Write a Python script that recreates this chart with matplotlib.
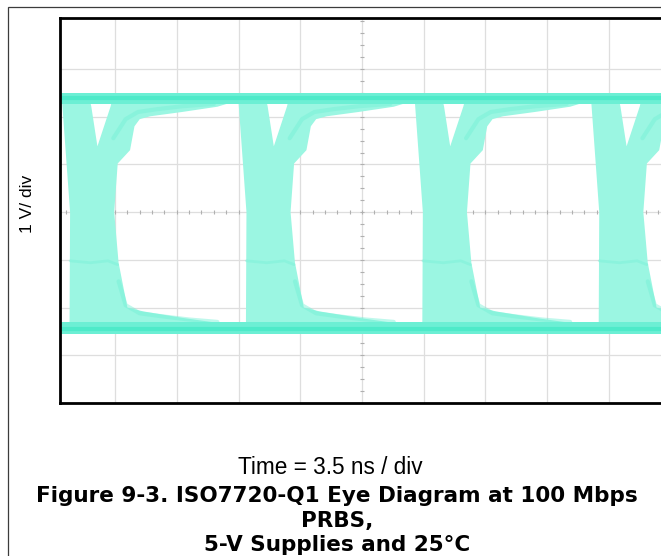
from __future__ import annotations

import matplotlib

matplotlib.use("Agg")
import matplotlib.pyplot as plt
import numpy as np
from matplotlib.patches import Polygon, Rectangle

# scope settings
NS_PER_DIV = 3.5
V_PER_DIV = 1.0
X_LIMITS = (-17.15, 17.15)
Y_LIMITS = (-4.0, 4.07)

# start of each transition bundle (ns), 10 ns bit period at 100 Mbps
TRANSITION_NS = [-17.0, -7.0, 3.0, 13.0]

# steady levels (V)
HIGH_BAND_V = (2.26, 2.50)
LOW_BAND_V = (-2.55, -2.31)
HIGH_CORE_V = 2.40
LOW_CORE_V = -2.44

# outline of one transition bundle, relative to its start (ns, V)
BUNDLE_NS = [0.0, 1.6, 1.65, 2.0, 2.75, 2.8, 9.6,
             8.8, 6.8, 5.0, 4.4, 4.1, 3.85, 3.15,
             2.95, 3.2, 3.7, 4.6, 6.9, 9.0,
             0.42, 0.45]
BUNDLE_V = [2.30, 2.30, 2.22, 1.38, 2.22, 2.30, 2.30,
            2.21, 2.10, 2.01, 1.95, 1.80, 1.30, 1.02,
            0.00, -1.06, -2.00, -2.08, -2.22, -2.33,
            -2.33, 0.00]

# settling ripples drawn slightly darker
TOP_RIPPLE_NS = [2.9, 3.6, 4.3, 5.4, 6.8, 8.6]
TOP_RIPPLE_V = [1.55, 1.95, 2.10, 2.16, 2.22, 2.27]
BOTTOM_RIPPLE_NS = [3.2, 3.6, 4.4, 5.6, 7.2, 8.8]
BOTTOM_RIPPLE_V = [-1.45, -1.95, -2.12, -2.18, -2.25, -2.30]
KNEE_NS = [0.45, 1.6, 2.6, 3.15]
KNEE_V = [-1.02, -1.06, -1.02, -1.10]

BLOB_COLOR = "#9bf6e2"
BAND_COLOR = "#6cefd4"
CORE_COLOR = "#42e8c5"
RIPPLE_COLOR = "#74f0d6"
GRID_COLOR = "#dedede"


def draw_grid(axis) -> None:
    x_lines = np.arange(-4, 5) * NS_PER_DIV
    y_lines = np.arange(-3, 4) * V_PER_DIV
    for x in x_lines:
        axis.axvline(x, color=GRID_COLOR, linewidth=0.9, zorder=0)
    for y in y_lines:
        axis.axhline(y, color=GRID_COLOR, linewidth=0.9, zorder=0)
    minor_x = np.arange(-25, 26) * NS_PER_DIV / 5
    minor_y = np.arange(-16, 17) * V_PER_DIV / 4
    axis.plot(minor_x, np.zeros_like(minor_x), linestyle="none",
              marker="|", markersize=3.0, color="#b0b0b0",
              markeredgewidth=0.8, zorder=0.5)
    axis.plot(np.zeros_like(minor_y), minor_y, linestyle="none",
              marker="_", markersize=3.0, color="#b0b0b0",
              markeredgewidth=0.8, zorder=0.5)


def draw_eye(axis) -> None:
    bundle_ns = np.asarray(BUNDLE_NS)
    bundle_v = np.asarray(BUNDLE_V)
    for start in TRANSITION_NS:
        axis.add_patch(
            Polygon(
                np.column_stack((start + bundle_ns, bundle_v)),
                closed=True,
                facecolor=BLOB_COLOR,
                edgecolor="none",
                zorder=2,
            )
        )
        axis.plot(start + np.asarray(TOP_RIPPLE_NS), TOP_RIPPLE_V,
                  color=RIPPLE_COLOR, linewidth=3.0, alpha=0.45,
                  solid_capstyle="round", zorder=2.5)
        axis.plot(start + np.asarray(BOTTOM_RIPPLE_NS), BOTTOM_RIPPLE_V,
                  color=RIPPLE_COLOR, linewidth=3.0, alpha=0.45,
                  solid_capstyle="round", zorder=2.5)
        axis.plot(start + np.asarray(KNEE_NS), KNEE_V,
                  color=RIPPLE_COLOR, linewidth=2.0, alpha=0.4,
                  solid_capstyle="round", zorder=2.5)
    for low, high, core in ((HIGH_BAND_V[0], HIGH_BAND_V[1], HIGH_CORE_V),
                            (LOW_BAND_V[0], LOW_BAND_V[1], LOW_CORE_V)):
        axis.axhspan(low, high, facecolor=BAND_COLOR, edgecolor="none",
                     zorder=3)
        axis.axhline(core, color=CORE_COLOR, linewidth=3.0, alpha=0.7,
                     zorder=3.5)


def main() -> int:
    plt.rcParams["font.family"] = ["Liberation Sans", "DejaVu Sans"]
    fig = plt.figure(figsize=(6.61, 5.56), dpi=100)
    fig.add_artist(
        Rectangle((8 / 661, -0.05), 1.2, 1.05 - 7 / 556,
                  transform=fig.transFigure, fill=False,
                  edgecolor="#3c3c3c", linewidth=0.9)
    )
    axis = fig.add_axes((59.5 / 661, 1 - 403 / 556, 605 / 661, 385 / 556))
    axis.set_xlim(*X_LIMITS)
    axis.set_ylim(*Y_LIMITS)
    draw_grid(axis)
    draw_eye(axis)
    axis.set_xticks([])
    axis.set_yticks([])
    for spine in axis.spines.values():
        spine.set_linewidth(2.0)
        spine.set_color("black")
        spine.set_zorder(5)

    fig.text(28 / 661, 1 - 204 / 556, "1 V/ div", rotation=90,
             ha="center", va="center", fontsize=12.5)
    fig.text(330 / 661, 1 - 467 / 556, "Time = 3.5 ns / div",
             ha="center", va="center", fontsize=16.3)
    caption = ["Figure 9-3. ISO7720-Q1 Eye Diagram at 100 Mbps",
               "PRBS,", "5-V Supplies and 25\u00b0C"]
    for line, y in zip(caption, (496, 521, 545)):
        fig.text(337 / 661, 1 - y / 556, line, ha="center", va="center",
                 fontsize=15.5, fontweight="bold",
                 family=["DejaVu Sans", "Liberation Sans"])

    fig.savefig("out.png", dpi=100)
    plt.close(fig)
    return 0


if __name__ == "__main__":
    raise SystemExit(main())
